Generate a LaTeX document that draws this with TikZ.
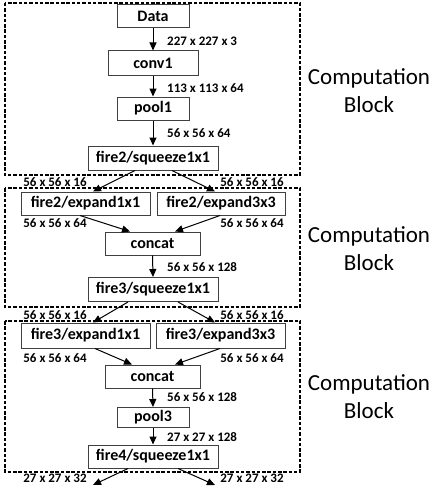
\documentclass[tikz,border=0pt]{standalone}
\usepackage{fontspec}
\setmainfont{Carlito}
\usepackage{xcolor}
\usetikzlibrary{arrows.meta, positioning, calc}
\definecolor{LayerEdge}{HTML}{404040}
\definecolor{BlockEdge}{HTML}{000000}
\tikzset{
    % Node styles
    layerbox/.style={
        rectangle,
        draw=LayerEdge,
        fill=white,
        line width=1pt,
        inner sep=0pt,
        minimum height=23pt,
        text centered,
        font=\fontsize{16}{19}\selectfont\bfseries
    },
    dimlabel/.style={
        inner sep=0pt,
        font=\fontsize{13}{15}\selectfont\bfseries
    },
    blocktext/.style={
        align=center,
        inner sep=0pt,
        font=\fontsize{23}{28}\selectfont
    },
    % Frame styles
    blockframe/.style={
        draw=BlockEdge,
        line width=2pt,
        dash pattern=on 3.5pt off 1.8pt
    },
    % Arrow styles
    flowarrow/.style={
        -{Triangle[length=8pt,width=7pt]},
        line width=1pt,
        black
    }
}
\begin{document}
\begin{tikzpicture}[x=1pt, y=-1pt]
    \useasboundingbox (0,0) rectangle (447,495);

    % Block frames
    \draw[blockframe] (5,3) rectangle (300,175);
    \draw[blockframe] (5,188) rectangle (300,307);
    \draw[blockframe] (5,321) rectangle (300,472);

    % Layers, block 1
    \node[layerbox,minimum width=72pt] (data) at (153,16.5) {Data};
    \node[layerbox,minimum width=90pt,minimum height=24pt] (conv1) at (153,63) {conv1};
    \node[layerbox,minimum width=72pt] (pool1) at (153,108.5) {pool1};
    \node[layerbox,minimum width=130pt,minimum height=24pt] (sq2) at (153,158) {fire2/squeeze1x1};

    % Layers, block 2
    \node[layerbox,minimum width=129pt] (ex2a) at (85.5,203.5) {fire2/expand1x1};
    \node[layerbox,minimum width=128pt] (ex2b) at (221,203.5) {fire2/expand3x3};
    \node[layerbox,minimum width=95pt] (cat2) at (152.5,243.5) {concat};
    \node[layerbox,minimum width=130pt,minimum height=24pt] (sq3) at (153,289.5) {fire3/squeeze1x1};

    % Layers, block 3
    \node[layerbox,minimum width=129pt,minimum height=25pt] (ex3a) at (85.5,335.5) {fire3/expand1x1};
    \node[layerbox,minimum width=129pt,minimum height=25pt] (ex3b) at (220.5,335.5) {fire3/expand3x3};
    \node[layerbox,minimum width=95pt] (cat3) at (152.5,376.5) {concat};
    \node[layerbox,minimum width=72pt,minimum height=20pt] (pool3) at (153,417.5) {pool3};
    \node[layerbox,minimum width=130pt] (sq4) at (153,456.5) {fire4/squeeze1x1};

    % Open ends
    \coordinate (out1) at (93,485);
    \coordinate (out2) at (215,485);

    % Block labels
    \node[blocktext] (blk1) at (369,91) {Computation\\Block};
    \node[blocktext] (blk2) at (369,249) {Computation\\Block};
    \node[blocktext] (blk3) at (369,397) {Computation\\Block};

    % Dimension labels
    \node[dimlabel,anchor=west] (d1) at (167,41) {227 x 227 x 3};
    \node[dimlabel,anchor=west] (d2) at (167,88) {113 x 113 x 64};
    \node[dimlabel,anchor=west] (d3) at (167,133) {56 x 56 x 64};
    \node[dimlabel] (d4) at (55,182) {56 x 56 x 16};
    \node[dimlabel] (d5) at (252,182) {56 x 56 x 16};
    \node[dimlabel] (d6) at (55,223) {56 x 56 x 64};
    \node[dimlabel] (d7) at (252,223) {56 x 56 x 64};
    \node[dimlabel,anchor=west] (d8) at (167,267) {56 x 56 x 128};
    \node[dimlabel] (d9) at (55,315) {56 x 56 x 16};
    \node[dimlabel] (d10) at (252,315) {56 x 56 x 16};
    \node[dimlabel] (d11) at (55,358) {56 x 56 x 64};
    \node[dimlabel] (d12) at (252,358) {56 x 56 x 64};
    \node[dimlabel,anchor=west] (d13) at (167,397) {56 x 56 x 128};
    \node[dimlabel,anchor=west] (d14) at (167,437) {27 x 27 x 128};
    \node[dimlabel] (d15) at (55,478) {27 x 27 x 32};
    \node[dimlabel] (d16) at (252,478) {27 x 27 x 32};

    % Connections
    \draw[flowarrow] (data.south) -- (conv1.north);
    \draw[flowarrow] (conv1.south) -- (pool1.north);
    \draw[flowarrow] (pool1.south) -- (sq2.north);
    \draw[flowarrow] ([xshift=-18pt]sq2.south) -- ([xshift=7.5pt]ex2a.north);
    \draw[flowarrow] ([xshift=19pt]sq2.south) -- ([xshift=-6pt]ex2b.north);
    \draw[flowarrow] ([xshift=-5.5pt]ex2a.south) -- ([xshift=-22.5pt]cat2.north);
    \draw[flowarrow] ([xshift=-1pt]ex2b.south) -- ([xshift=22.5pt]cat2.north);
    \draw[flowarrow] (cat2.south) -- (sq3.north);
    \draw[flowarrow] ([xshift=-25pt]sq3.south) -- ([xshift=7.5pt]ex3a.north);
    \draw[flowarrow] ([xshift=25pt]sq3.south) -- ([xshift=-5.5pt]ex3b.north);
    \draw[flowarrow] ([xshift=9.5pt]ex3a.south) -- ([xshift=-20.5pt]cat3.north);
    \draw[flowarrow] ([xshift=-0.5pt]ex3b.south) -- ([xshift=22.5pt]cat3.north);
    \draw[flowarrow] (cat3.south) -- (pool3.north);
    \draw[flowarrow] (pool3.south) -- (sq4.north);
    \draw[flowarrow] ([xshift=-25pt]sq4.south) -- (out1);
    \draw[flowarrow] ([xshift=25pt]sq4.south) -- (out2);
\end{tikzpicture}
\end{document}
